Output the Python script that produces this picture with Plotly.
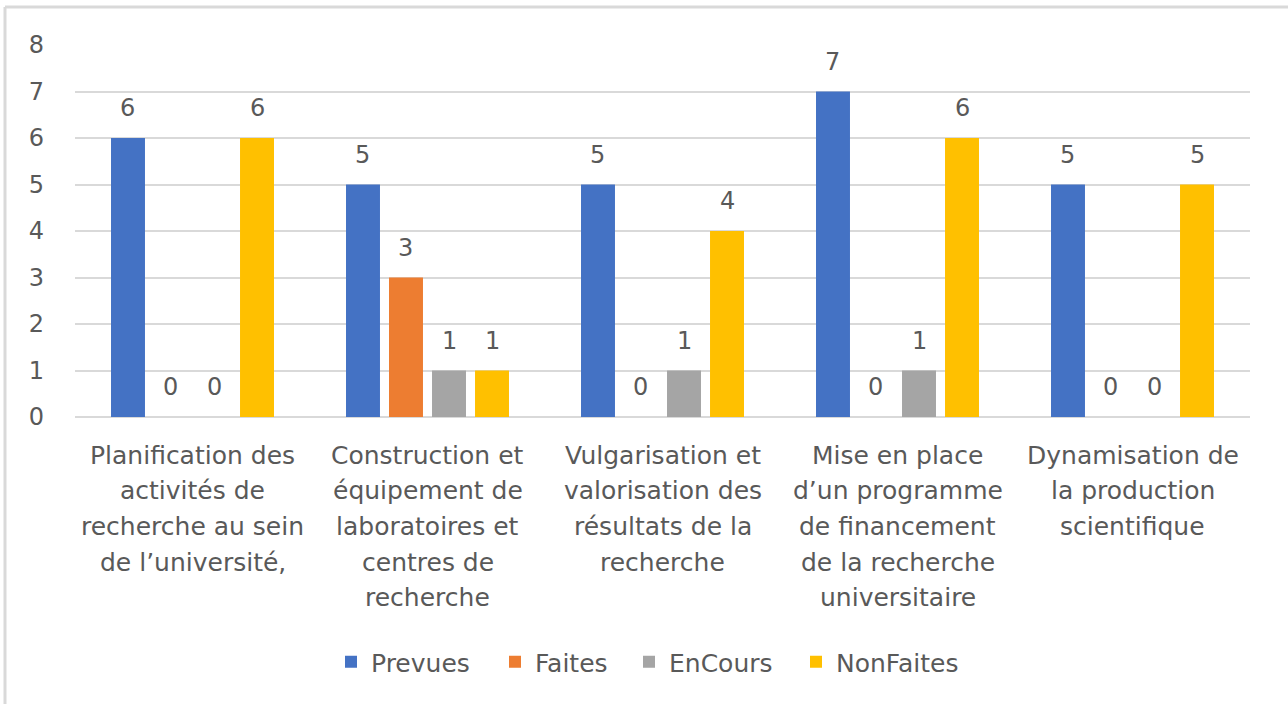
import plotly.graph_objects as go

categories = [
    "Planification des\nactivités de\nrecherche au sein\nde l’université,",
    "Construction et\néquipement de\nlaboratoires et\ncentres de\nrecherche",
    "Vulgarisation et\nvalorisation des\nrésultats de la\nrecherche",
    "Mise en place\nd’un programme\nde financement\nde la recherche\nuniversitaire",
    "Dynamisation de\nla production\nscientifique",
]
series_names = ["Prevues", "Faites", "EnCours", "NonFaites"]
prevues = [6, 5, 5, 7, 5]
faites = [0, 3, 0, 0, 0]
encours = [0, 1, 1, 1, 0]
nonfaites = [6, 1, 4, 6, 5]
y_ticks = [0, 1, 2, 3, 4, 5, 6, 7, 8]

series_values = [prevues, faites, encours, nonfaites]
colors = ["#4472C4", "#ED7D31", "#A5A5A5", "#FFC000"]

W, H = 1288, 704
ML, MR, MT, MB = 75, 38, 45, 287
plot_w = W - ML - MR
plot_h = H - MT - MB
BARGAP = 0.268
BARGROUPGAP = 0.21
TXT = "#595959"
FONT = "DejaVu Sans, Open Sans, sans-serif"
FS = 24
FS_CAT = 25

# legend item left positions (px), one legend box per series
legend_px = [345, 509, 643, 810]
LEG_OFF = 14
legend_ids = ["legend", "legend2", "legend3", "legend4"]

fig = go.Figure()
for name, vals, col, lid in zip(series_names, series_values, colors, legend_ids):
    fig.add_trace(go.Bar(x=list(range(len(categories))), y=vals, name=name,
                         marker=dict(color=col, line=dict(width=0)),
                         legend=lid, hoverinfo="y+name"))

# data labels via annotations
cat_px = plot_w / len(categories)
slot_px = cat_px * (1 - BARGAP) / len(series_names)
annotations = []
for si, vals in enumerate(series_values):
    xshift = (si - (len(series_names) - 1) / 2) * slot_px
    for ci, v in enumerate(vals):
        annotations.append(dict(x=ci, y=v, xref="x", yref="y", text=str(v),
                                showarrow=False, xshift=xshift, yshift=30,
                                yanchor="middle", xanchor="center",
                                font=dict(family=FONT, size=FS, color=TXT)))

# category labels, one annotation per line
for ci, cat in enumerate(categories):
    for li, line in enumerate(cat.split("\n")):
        annotations.append(dict(x=ci, y=0, xref="x", yref="paper", text=line,
                                showarrow=False, yanchor="middle", xanchor="center",
                                yshift=-38 - 35.7 * li,
                                font=dict(family=FONT, size=FS_CAT, color=TXT)))

# outer frame (left and top edges)
x0 = (5 - ML) / plot_w
x1 = (W + 5 - ML) / plot_w
ytop = (MT + plot_h - 7) / plot_h
ybot = -(MB + 5) / plot_h
shapes = [
    dict(type="line", xref="paper", yref="paper", x0=x0, x1=x0, y0=ybot, y1=ytop,
         line=dict(color="#D9D9D9", width=3)),
    dict(type="line", xref="paper", yref="paper", x0=x0, x1=x1, y0=ytop, y1=ytop,
         line=dict(color="#D9D9D9", width=3)),
]

legend_y = (MT + plot_h - 662) / plot_h
layout_legends = {}
for lid, px in zip(legend_ids, legend_px):
    layout_legends[lid] = dict(orientation="h", x=(px - LEG_OFF - ML) / plot_w,
                               xanchor="left", y=legend_y, yanchor="middle",
                               bgcolor="rgba(0,0,0,0)", borderwidth=0,
                               font=dict(family=FONT, size=FS_CAT, color=TXT),
                               itemclick=False, itemdoubleclick=False)

fig.update_layout(
    width=W, height=H,
    margin=dict(l=ML, r=MR, t=MT, b=MB, pad=0),
    paper_bgcolor="white", plot_bgcolor="white",
    barmode="group", bargap=BARGAP, bargroupgap=BARGROUPGAP,
    font=dict(family=FONT, size=FS, color=TXT),
    showlegend=True,
    annotations=annotations,
    shapes=shapes,
    xaxis=dict(range=[-0.5, len(categories) - 0.5], showticklabels=False, ticks="",
               showgrid=False, zeroline=False, showline=False, fixedrange=True),
    yaxis=dict(range=[0, 8], tickvals=y_ticks, ticktext=[str(t) for t in y_ticks],
               showgrid=True, gridcolor="#D9D9D9", gridwidth=2,
               zeroline=True, zerolinecolor="#D9D9D9", zerolinewidth=2,
               showline=False, ticks="", ticklabelstandoff=30,
               tickfont=dict(family=FONT, size=FS, color=TXT), fixedrange=True),
    **layout_legends,
)

fig.write_html("out.html", config={"displayModeBar": False},
               post_script="document.body.style.margin='0';document.body.style.overflow='hidden';")
